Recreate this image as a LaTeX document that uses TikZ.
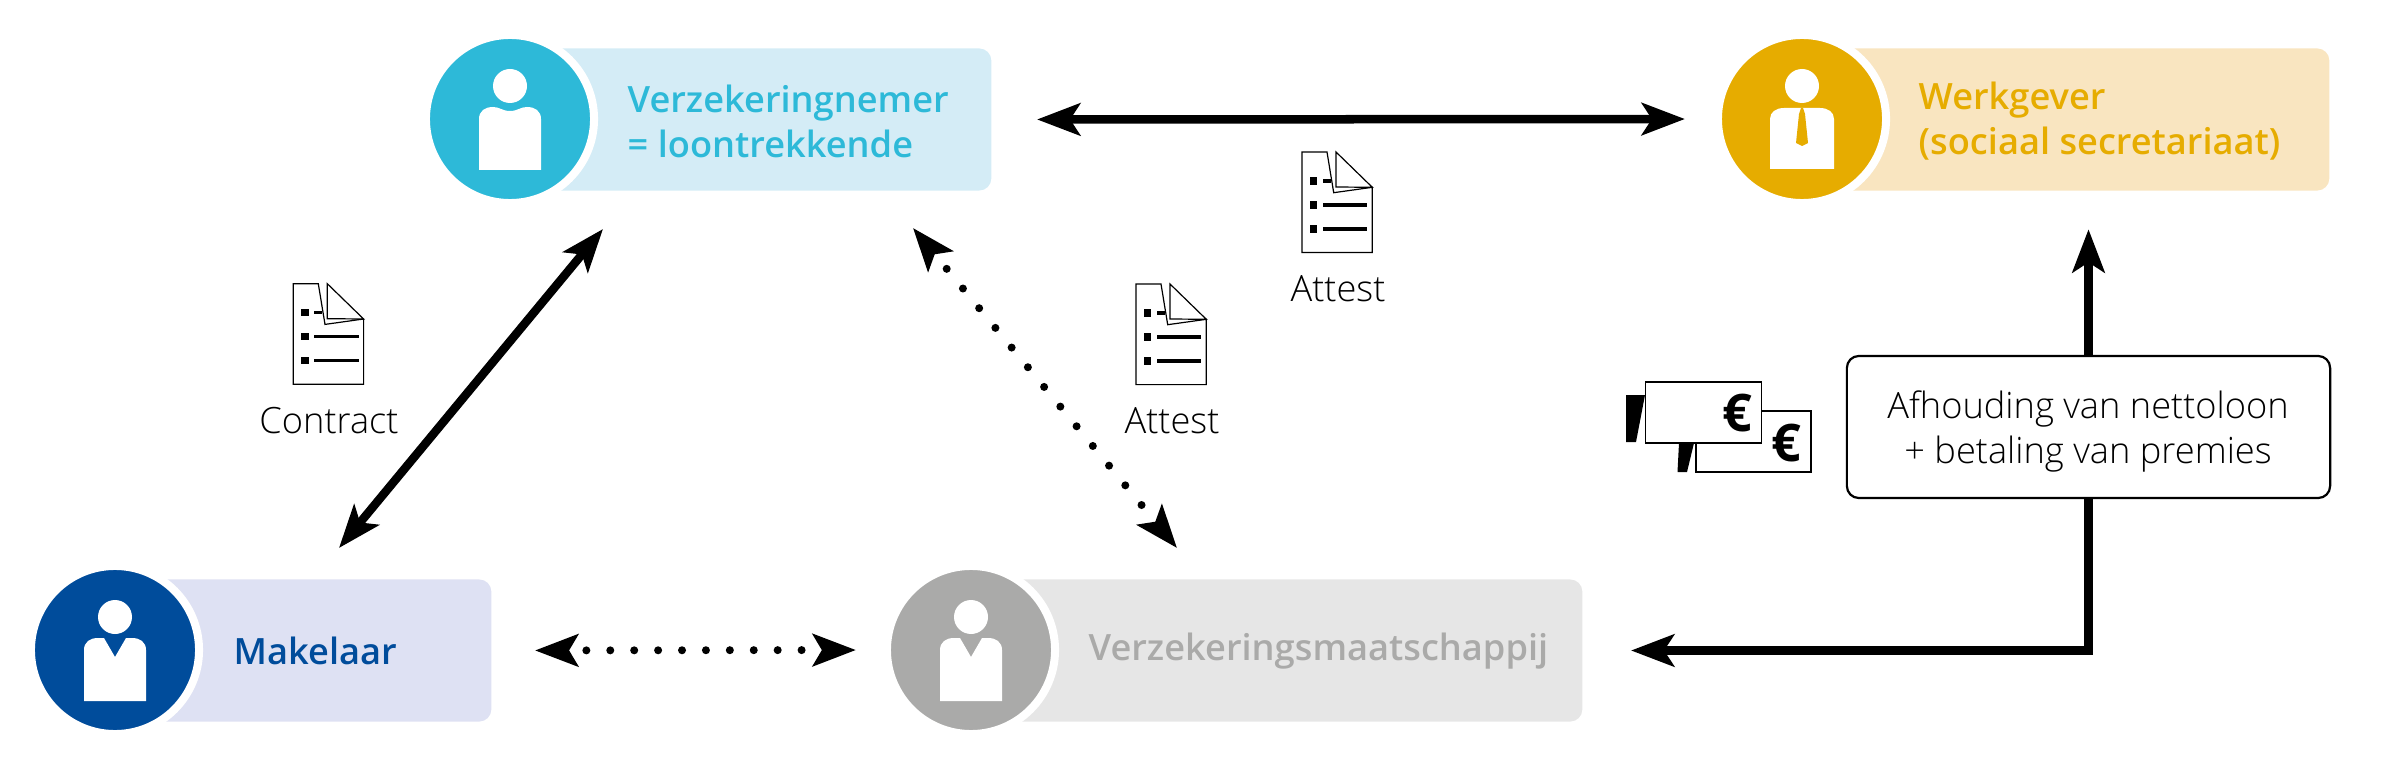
\documentclass[tikz,border=0pt]{standalone}
\usepackage{fontspec}
\setmainfont{Open Sans}
\newfontfamily\lightfont{Open Sans Light}
\newfontfamily\semifont{Open Sans Semibold}
\usetikzlibrary{arrows.meta}
\definecolor{nemerblue}{HTML}{2DB9D8}
\definecolor{nemerpale}{HTML}{D4ECF6}
\definecolor{gevergold}{HTML}{E6AC00}
\definecolor{geverpale}{HTML}{F9E5C0}
\definecolor{makelblue}{HTML}{004C9B}
\definecolor{makelpale}{HTML}{DEE1F3}
\definecolor{maatgray}{HTML}{AAAAA9}
\definecolor{maatpale}{HTML}{E6E6E6}
\tikzset{
  personcircle/.style={circle,draw=white,line width=.08cm,minimum size=1.68cm,inner sep=0pt},
  rolebox/.style={rectangle,rounded corners=.12cm,minimum height=1.42cm,inner sep=0pt},
  roletext/.style={font=\semifont\fontsize{10.3}{12.8}\selectfont,align=left,anchor=west,inner sep=0pt},
  doctext/.style={font=\lightfont\fontsize{10.3}{12.8}\selectfont,anchor=base,inner sep=0pt},
  notebox/.style={rectangle,draw=black,line width=.022cm,rounded corners=.12cm,fill=white,minimum width=4.83cm,minimum height=1.42cm,inner sep=0pt},
  notetext/.style={font=\lightfont\fontsize{10.3}{12.8}\selectfont,align=center,inner sep=0pt},
  solidarrow/.style={line width=.085cm,{Stealth[length=.43cm,width=.32cm,inset=.1cm]}-{Stealth[length=.43cm,width=.32cm,inset=.1cm]}},
  dotarrow/.style={line width=.08cm,line cap=round,dash pattern=on 0pt off #1,{Stealth[length=.43cm,width=.32cm,inset=.09cm]}-{Stealth[length=.43cm,width=.32cm,inset=.09cm]}},
  pics/persondip/.style={code={
    \fill[white] (0,-33) circle (17);
    \fill[white] (-31,51) -- (-31,0) .. controls (-31,-8) and (-25,-12) .. (-17,-12) .. controls (-10,-12) and (-8,-8) .. (0,-8) .. controls (8,-8) and (10,-12) .. (17,-12) .. controls (25,-12) and (31,-8) .. (31,0) -- (31,51) -- cycle;
  }},
  pics/personvee/.style={code={
    \fill[white] (0,-33) circle (17);
    \fill[white] (-31,51) -- (-31,0) .. controls (-31,-8) and (-25,-12) .. (-17,-12) -- (-11,-12) -- (0,7) -- (11,-12) -- (17,-12) .. controls (25,-12) and (31,-8) .. (31,0) -- (31,51) -- cycle;
  }},
  pics/persontie/.style={code={
    \fill[white] (0,-33) circle (17);
    \fill[white] (-32,50) -- (-32,0) .. controls (-32,-7) and (-26,-11) .. (-18,-11) -- (18,-11) .. controls (26,-11) and (32,-7) .. (32,0) -- (32,50) -- cycle;
    \fill[#1] (-1,-11) -- (1,-11) -- (3,-5) -- (6,24) -- (0,27) -- (-6,24) -- (-3,-5) -- cycle;
  }},
  pics/docicon/.style={code={
    \draw[line width=.012cm,fill=white] (0,0) -- (25,0) -- (31.7,40.7) -- (70.3,35.3) -- (70.3,100.6) -- (0,100.6) -- cycle;
    \draw[line width=.012cm,fill=white] (34,0) -- (34,35) -- (70.3,35.3) -- cycle;
    \foreach \i in {29,53,77}{\fill (8,\i-3.6) rectangle (15.3,\i+3.6);}
    \fill (20.7,27.4) rectangle (29,30.6);
    \fill (20.7,51.4) rectangle (65.3,54.6);
    \fill (20.7,75.4) rectangle (65.3,78.6);
  }}
}
\begin{document}
\begin{tikzpicture}[x=0.01cm,y=-0.01cm]
\useasboundingbox (0,0) rectangle (2384,776);
% boxes
\node[rolebox,fill=nemerpale,minimum width=4.82cm,anchor=east] (verzbox) at (992,119.5) {};
\node[rolebox,fill=geverpale,minimum width=5.28cm,anchor=east] (werkbox) at (2330,119.5) {};
\node[rolebox,fill=makelpale,minimum width=3.77cm,anchor=east] (makbox) at (492,650.5) {};
\node[rolebox,fill=maatpale,minimum width=6.12cm,anchor=east] (maatbox) at (1583,650.5) {};
% circles
\node[personcircle,fill=nemerblue] (verzcirc) at (510,119) {};
\node[personcircle,fill=gevergold] (werkcirc) at (1802,119) {};
\node[personcircle,fill=makelblue] (makcirc) at (115,650) {};
\node[personcircle,fill=maatgray] (maatcirc) at (971,650) {};
\pic at (510,119) {persondip};
\pic at (1802,119) {persontie=gevergold};
\pic at (115,650) {personvee};
\pic at (971,650) {personvee};
% titles
\node[roletext,text=nemerblue] (verztext) at (627,121) {Verzekeringnemer\\= loontrekkende};
\node[roletext,text=gevergold] (werktext) at (1918,121) {Werkgever\\(sociaal secretariaat)};
\node[roletext,text=makelblue] (maktext) at (233,651) {Makelaar};
\node[roletext,text=maatgray] (maattext) at (1088,651) {Verzekeringsmaatschappij};
% documents
\pic at (293.3,283.7) {docicon};
\pic at (1136,284) {docicon};
\pic at (1302,152) {docicon};
\node[doctext] (contracttext) at (329,433) {Contract};
\node[doctext] (attestmid) at (1172,433) {Attest};
\node[doctext] (attesttop) at (1338,301) {Attest};
% money
\fill (1626,395) -- (1645,395) -- (1636,442) -- (1626,442) -- cycle;
\fill (1679,443) -- (1694,443) -- (1687,472) -- (1677.5,472) -- cycle;
\node[draw=black,fill=white,line width=.015cm,minimum width=1.15cm,minimum height=.61cm,inner sep=0pt] (backnote) at (1753.5,441.5) {};
\node[draw=black,fill=white,line width=.015cm,minimum width=1.155cm,minimum height=.61cm,inner sep=0pt] (frontnote) at (1703.5,412.5) {};
\node[font=\bfseries\fontsize{14.8}{15}\selectfont,inner sep=0pt] (euroback) at (1786,443) {€};
\node[font=\bfseries\fontsize{14.8}{15}\selectfont,inner sep=0pt] (eurofront) at (1737,413) {€};
% betaling
\node[notebox] (inhouding) at (2088.5,427) {};
\node[notetext] (inhoudingtext) at (2088,431) {Afhouding van nettoloon\\+ betaling van premies};
% free ends of the slanted arrows
\coordinate (contracttop) at (603,229);
\coordinate (contractbot) at (339,548);
\coordinate (attesttip) at (913,228);
\coordinate (attestbot) at (1177,548);
% arrows
\draw[solidarrow,shorten <=.45cm,shorten >=.29cm] (verzbox.east) -- (werkcirc.west);
\draw[solidarrow] (contracttop) -- (contractbot);
\draw[dotarrow=.255cm,dash phase=.04cm] (attesttip) -- (attestbot);
\draw[dotarrow=.239cm,dash phase=.04cm,shorten <=.43cm,shorten >=.27cm] (makbox.east) -- (maatcirc.west);
\draw[line width=.085cm,-{Stealth[length=.43cm,width=.32cm,inset=.1cm]},shorten >=.38cm] (inhouding.north) -- (inhouding.north |- werkbox.south);
\draw[line width=.085cm,-{Stealth[length=.43cm,width=.32cm,inset=.1cm]},shorten >=.48cm] (inhouding.south) |- (maatbox.east);
\end{tikzpicture}
\end{document}
